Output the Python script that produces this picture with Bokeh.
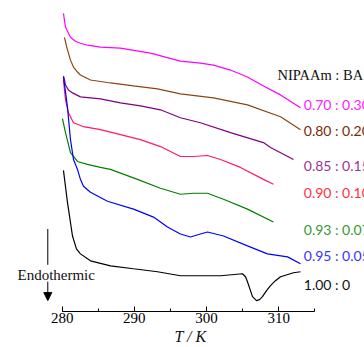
from bokeh.plotting import figure
from bokeh.models import Range1d, SingleIntervalTicker, Label, Arrow, NormalHead
from bokeh.embed import file_html
from bokeh.resources import INLINE

# ---- data: temperature (K) and heat flow (arbitrary units, curves offset) ----
T_070 = [280.18, 280.46, 281.15, 281.84, 282.53, 283.50, 285.30, 288.07, 292.23, 296.38,
         299.15, 300.96, 303.31, 305.66, 307.88, 310.24, 313.01]
H_070 = [300, 286, 276, 272, 270, 268, 266, 265, 260, 252, 250, 248, 243, 236, 227, 218, 205]

T_080 = [280.32, 280.60, 280.87, 281.15, 281.57, 282.12, 282.53, 283.92, 286.69, 289.88,
         293.20, 296.38, 300.96, 305.66, 310.24, 313.01]
H_080 = [276, 267, 260, 253, 246, 241, 238, 233, 230, 227, 224, 219, 215, 208, 196, 183]

T_085 = [280.18, 280.32, 280.46, 280.87, 281.43, 282.53, 285.30, 288.07, 290.84, 293.61,
         296.38, 299.15, 303.31, 307.88, 308.85, 312.04]
H_085 = [237, 233, 228, 223, 220, 216, 214, 210, 207, 203, 195, 190, 180, 170, 165, 153]

T_090 = [280.18, 280.32, 280.46, 280.87, 281.57, 282.95, 285.30, 288.07, 290.84, 293.61,
         296.38, 298.19, 300.12, 301.92, 304.69, 307.88, 309.26]
H_090 = [233, 223, 213, 200, 190, 186, 183, 178, 173, 166, 156, 156, 157, 153, 145, 133, 128]

T_093 = [280.04, 280.46, 281.15, 282.12, 283.50, 285.30, 286.69, 290.43, 293.61, 296.38,
         298.19, 300.12, 302.34, 305.66, 309.26]
H_093 = [194, 180, 160, 151, 148, 145, 143, 133, 124, 118, 119, 119, 113, 103, 90]

T_095 = [280.18, 280.46, 280.73, 281.15, 281.57, 282.12, 282.53, 282.95, 283.92, 286.27,
         289.88, 292.65, 294.58, 296.38, 297.77, 299.15, 300.12, 302.34, 305.66, 308.43,
         311.21, 313.01]
H_095 = [236, 221, 206, 173, 153, 143, 133, 126, 120, 111, 103, 95, 85, 78, 75, 78, 80, 76,
         66, 58, 55, 48]

T_100 = [280.18, 280.73, 281.43, 281.98, 282.53, 283.92, 286.69, 289.88, 293.20, 296.38,
         301.92, 304.97, 305.39, 305.66, 306.08, 306.36, 306.91, 307.33, 307.74, 308.30,
         308.85, 309.54, 310.24, 312.04, 313.01]
H_100 = [142, 110, 76, 63, 58, 51, 46, 43, 40, 36, 36, 38, 35, 30, 21, 15, 11, 12, 15, 21,
         26, 31, 35, 39, 40]

ratio_labels = ["0.70 : 0.30", "0.80 : 0.20", "0.85 : 0.15", "0.90 : 0.10",
                "0.93 : 0.07", "0.95 : 0.05", "1.00 : 0"]
x_ticks_major = 10

# ---- styles ----
curve_colors = ["#FF00FF", "#8B4513", "#800080", "#FF1A66", "#008000", "#0000FF", "#000000"]
label_colors = ["#FF22FF", "#7A2A08", "#993399", "#FF3040", "#339933", "#3333FF", "#111111"]
label_y = [208, 182, 147, 120, 83, 56, 27]
label_x = 313.46

# page has no margin: the canvas spans the whole 364x347 window
p = figure(width=364, height=347, output_backend="svg", toolbar_location=None,
           x_range=Range1d(271.46, 321.87), y_range=Range1d(0, 313),
           y_axis_location=None, min_border_left=0, min_border_right=0,
           min_border_top=0, min_border_bottom=34)
p.outline_line_color = None
p.grid.visible = False
p.background_fill_color = "white"
p.border_fill_color = "white"

ax = p.xaxis[0]
ax.ticker = SingleIntervalTicker(interval=x_ticks_major, num_minor_ticks=2)
ax.bounds = (280, 315)
ax.major_tick_in = 5
ax.major_tick_out = 0
ax.minor_tick_in = 3
ax.minor_tick_out = 0
ax.axis_line_color = "black"
ax.major_tick_line_color = "black"
ax.minor_tick_line_color = "black"
ax.major_label_text_font = "Liberation Serif"
ax.major_label_text_font_size = "15px"
ax.major_label_text_color = "black"
ax.major_label_standoff = 1
ax.axis_label = "\u2003T / K"
ax.axis_label_text_font = "Liberation Serif"
ax.axis_label_text_font_style = "italic"
ax.axis_label_text_font_size = "16px"
ax.axis_label_text_color = "#111111"
ax.axis_label_standoff = 2

series = [(T_070, H_070), (T_080, H_080), (T_085, H_085), (T_090, H_090),
          (T_093, H_093), (T_095, H_095), (T_100, H_100)]
for (t, h), c in zip(series, curve_colors):
    p.line(t, h, line_color=c, line_width=1.2)

for txt, c, y in zip(ratio_labels, label_colors, label_y):
    p.add_layout(Label(x=label_x, y=y, text=txt, text_color=c, text_font="Lato",
                       text_font_size="14px", text_baseline="middle", text_align="left"))

p.add_layout(Label(x=309.82, y=238, text="NIPAAm : BA", text_color="#111111",
                   text_font="Liberation Serif", text_font_size="14.5px",
                   text_baseline="middle", text_align="left"))

p.add_layout(Label(x=273.81, y=37, text="Endothermic", text_color="#111111",
                   text_font="Liberation Serif", text_font_size="15px",
                   text_baseline="middle", text_align="left"))
p.add_layout(Arrow(end=None, x_start=278.01, y_start=83, x_end=278.01, y_end=47,
                   line_color="black", line_width=1))
p.add_layout(Arrow(end=NormalHead(size=8, fill_color="black", line_color="black"),
                   x_start=278.01, y_start=30, x_end=278.01, y_end=11,
                   line_color="black", line_width=1))

open("out.html", "w").write(file_html(p, INLINE))
